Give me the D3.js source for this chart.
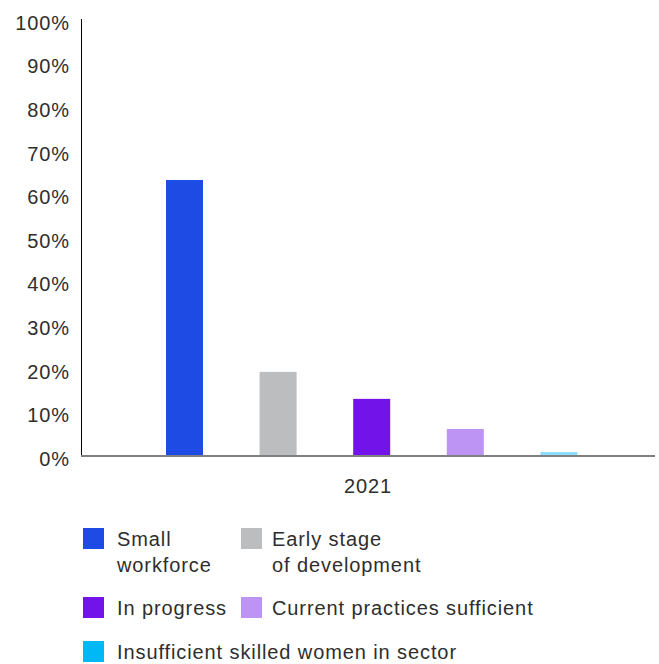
<!DOCTYPE html>
<html>
<head>
<meta charset="utf-8">
<script src="https://cdn.jsdelivr.net/npm/d3@7"></script>
<style>
  html, body { margin: 0; padding: 0; background: #fff; }
  svg text { font-family: "Liberation Sans", Arial, sans-serif; fill: #2e2e2e; letter-spacing: 0.9px; }
</style>
</head>
<body>
<svg id="chart" width="659" height="664"></svg>
<script>
// Chart data
const years = ["2021"];
const seriesNames = [
  "Small workforce",
  "Early stage of development",
  "In progress",
  "Current practices sufficient",
  "Insufficient skilled women in sector"
];
const seriesValues = [63.3, 19.3, 13.1, 6.2, 0.9];
const seriesColors = ["#1e4be3", "#bcbdbf", "#7213ea", "#bd93f4", "#8bdcf8"];
const swatchColors = ["#1e4be3", "#bcbdbf", "#7213ea", "#bd93f4", "#00b8f5"];
const yTicks = [0, 10, 20, 30, 40, 50, 60, 70, 80, 90, 100];

// Legend entries: grid position and wrapped label lines
const legendItems = [
  { lines: ["Small", "workforce"], col: 0, row: 0 },
  { lines: ["Early stage", "of development"], col: 1, row: 0 },
  { lines: ["In progress"], col: 0, row: 1 },
  { lines: ["Current practices sufficient"], col: 1, row: 1 },
  { lines: ["Insufficient skilled women in sector"], col: 0, row: 2 }
];

const svg = d3.select("#chart");
const plot = { left: 81, right: 655, top: 20, bottom: 456 };

const y = d3.scaleLinear().domain([0, 100]).range([plot.bottom, plot.top]);
const x0 = d3.scaleBand().domain(years).range([plot.left, plot.right]);
// series bars inside the year group
const x1 = d3.scaleBand().domain(seriesNames).range([166 - plot.left, 577.4 - plot.left])
  .paddingInner(0.6047).paddingOuter(0);

// Y axis
const yAxis = d3.axisLeft(y).tickValues(yTicks).tickSize(0).tickPadding(11)
  .tickFormat(d => d + "%");
const gy = svg.append("g").attr("transform", `translate(${plot.left},0)`).call(yAxis);
gy.select(".domain").attr("stroke", "#000").attr("stroke-width", 1)
  .attr("d", `M0.5,${plot.top - 1}V${plot.bottom}`);
gy.selectAll("text").style("font-size", "20px").attr("fill", "#2e2e2e").attr("dy", "0.46em");

// Bars
const group = svg.append("g").selectAll("g").data(years).join("g")
  .attr("transform", d => `translate(${x0(d)},0)`);
group.selectAll("rect")
  .data(seriesNames.map((n, i) => ({ name: n, value: seriesValues[i], color: seriesColors[i] })))
  .join("rect")
  .attr("x", d => x1(d.name))
  .attr("width", x1.bandwidth())
  .attr("y", d => y(d.value))
  .attr("height", d => y(0) - y(d.value))
  .attr("fill", d => d.color);

// X axis (baseline)
const xAxis = d3.axisBottom(x0).tickSize(0).tickPadding(23);
const gx = svg.append("g").attr("transform", `translate(0,${plot.bottom})`).call(xAxis);
gx.select(".domain").attr("stroke", "#808080").attr("stroke-width", 2)
  .attr("d", `M${plot.left},0H${plot.right}`);
gx.selectAll("text").style("font-size", "20px").attr("fill", "#2e2e2e");

// Legend
const colX = [83, 241];
const textX = [117, 272];
const rowY = [528, 597, 641];
const legend = svg.append("g");
legendItems.forEach((item, i) => {
  const g = legend.append("g").attr("transform", `translate(${colX[item.col]},${rowY[item.row]})`);
  g.append("rect").attr("width", 21).attr("height", 21).attr("fill", swatchColors[i]);
  const tx = textX[item.col] - colX[item.col];
  const t = g.append("text").attr("x", tx).attr("y", 18).style("font-size", "20px");
  item.lines.forEach((line, k) => {
    t.append("tspan").attr("x", tx).attr("dy", k === 0 ? 0 : 26).text(line);
  });
});
</script>
</body>
</html>
